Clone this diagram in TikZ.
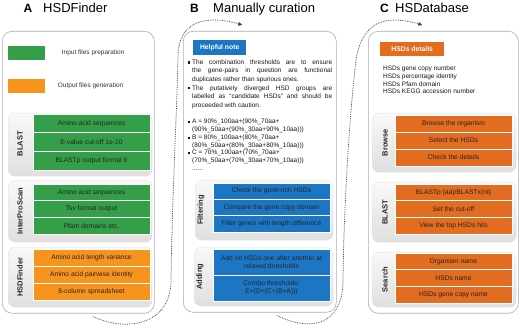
\documentclass[tikz,border=0pt]{standalone}
\usepackage{fontspec}
\setmainfont{Liberation Sans}
\usepackage{xcolor}
\usetikzlibrary{arrows.meta,positioning}
\definecolor{findgreen}{RGB}{52,158,72}
\definecolor{findorange}{RGB}{247,148,30}
\definecolor{dborange}{RGB}{226,108,32}
\definecolor{curblue}{RGB}{28,118,196}
\newcommand{\rowfont}{\fontsize{6.7}{7.6}\selectfont}
\newcommand{\notefont}{\fontsize{6.5}{8.6}\selectfont}
\newcommand{\formfont}{\fontsize{6.5}{7.8}\selectfont}
\newcommand{\sqbul}{\makebox[4.5pt][l]{\rule[0.6pt]{2.2pt}{2.2pt}}}

\begin{document}
\begin{tikzpicture}[x=1pt, y=-1pt,
  outer/.style={draw=gray!65, line width=0.6pt, rounded corners=10pt, fill=white,
    anchor=north west, inner sep=0pt},
  panel/.style={draw=gray!22, rounded corners=7pt, top color=gray!5, bottom color=gray!25,
    anchor=north west, inner sep=0pt},
  row/.style={draw=white, line width=0.5pt, minimum width=117pt, minimum height=17pt,
    inner sep=1pt, outer sep=0pt, font=\rowfont, text=black!85, align=center},
  greenrow/.style={row, fill=findgreen},
  orangerow/.style={row, fill=findorange},
  dbrow/.style={row, fill=dborange},
  bluerow/.style={row, fill=curblue},
  grp/.style={rotate=90, font=\fontsize{7.5}{9}\selectfont\bfseries, text=black!85},
  head/.style={anchor=north west, inner sep=0pt, text=white,
    font=\fontsize{6.8}{8}\selectfont\bfseries},
  legtext/.style={font=\fontsize{6.5}{8}\selectfont, text=black!80},
  ttl/.style={font=\fontsize{12}{14}\selectfont\bfseries, anchor=base, inner sep=0pt},
  ttlname/.style={font=\fontsize{13}{15}\selectfont, anchor=base west, inner sep=0pt},
  flow/.style={densely dotted, line width=0.75pt, black!75,
    -{Triangle[length=4pt,width=3.6pt]}}
]
  \useasboundingbox (0,0) rectangle (520,328);

  % titles
  \node[ttl] (ta) at (28,13) {A};
  \node[ttlname] (tan) at (43,13) {HSDFinder};
  \node[ttl] (tb) at (194.5,13) {B};
  \node[ttlname] (tbn) at (213,13) {Manually curation};
  \node[ttl] (tc) at (384.5,13) {C};
  \node[ttlname] (tcn) at (395,13) {HSDatabase};

  % A: HSDFinder
  \node[outer, minimum width=152pt, minimum height=282pt] (boxA) at (2,31) {};
  \node[anchor=north west, fill=findgreen, minimum width=37pt, minimum height=14pt,
    inner sep=0pt] (leggreen) at (8,46) {};
  \node[legtext, right=13pt of leggreen] {Input files preparation};
  \node[anchor=north west, fill=findorange, minimum width=37pt, minimum height=14pt,
    inner sep=0pt] (legorange) at (8,79) {};
  \node[legtext, right=9pt of legorange] {Output files generation};

  \node[panel, minimum width=144pt, minimum height=63pt] (pblast) at (8,113) {};
  \node[grp] at ([xshift=12pt,yshift=1pt]pblast.west) {BLAST};
  \node[greenrow, minimum height=18.7pt, anchor=north west] (bl1)
    at ([xshift=25pt,yshift=-1pt]pblast.north west) {Amino acid sequences};
  \node[greenrow, minimum height=18.7pt, below=0pt of bl1] (bl2) {E-value cut-off 1e-10};
  \node[greenrow, minimum height=18.7pt, below=0pt of bl2] (bl3) {BLASTp output format 6};

  \node[panel, minimum width=144pt, minimum height=62pt] (pipr) at (8,180) {};
  \node[grp] at ([xshift=12pt]pipr.west) {InterProScan};
  \node[greenrow, minimum height=16.7pt, anchor=north west] (ip1)
    at ([xshift=25pt,yshift=-4pt]pipr.north west) {Amino acid sequences};
  \node[greenrow, minimum height=16.7pt, below=0pt of ip1] (ip2) {Tsv format output};
  \node[greenrow, minimum height=16.7pt, below=0pt of ip2] (ip3) {Pfam domains etc.};

  \node[panel, minimum width=144pt, minimum height=60pt] (pfind) at (8,247) {};
  \node[grp] at ([xshift=12pt]pfind.west) {HSDFinder};
  \node[orangerow, anchor=north west] (hf1)
    at ([xshift=25pt,yshift=-2pt]pfind.north west) {Amino acid length variance};
  \node[orangerow, below=0pt of hf1] (hf2) {Amino acid pairwise identity};
  \node[orangerow, below=0pt of hf2] (hf3) {8-column spreadsheet};

  % B: Manually curation
  \node[outer, minimum width=153pt, minimum height=281pt] (boxB) at (183,31) {};
  \node[head, fill=curblue, minimum width=53pt, minimum height=15pt] (hnote) at (193,40)
    {Helpful note};
  \node[anchor=north west, inner sep=0pt, text width=144.5pt, align=justify,
    font=\notefont, text=black!90] (notes) at (187.5,59.3) {%
    \noindent\hangindent=4.5pt\hangafter=1\sqbul The combination thresholds are to ensure\linebreak
    the gene-pairs in question are functional\linebreak
    duplicates rather than spurious ones.\par
    \noindent\hangindent=4.5pt\hangafter=1\sqbul The putatively diverged HSD groups are\linebreak
    labelled as “candidate HSDs” and should be\linebreak
    proceeded with caution.\par};
  \node[anchor=north west, inner sep=0pt, align=left, font=\formfont, text=black!90]
    (forms) at (187.5,118.8) {%
    \sqbul A = 90\%\_100aa+(90\%\_70aa+\\
    \hspace*{4.5pt}(90\%\_50aa+(90\%\_30aa+90\%\_10aa)))\\
    \sqbul B = 80\%\_100aa+(80\%\_70aa+\\
    \hspace*{4.5pt}(80\%\_50aa+(80\%\_30aa+80\%\_10aa)))\\
    \sqbul C = 70\%\_100aa+(70\%\_70aa+\\
    \hspace*{4.5pt}(70\%\_50aa+(70\%\_30aa+70\%\_10aa)))\\
    \hspace*{4.5pt}......};

  \node[panel, minimum width=138pt, minimum height=60pt] (pfilt) at (195,180) {};
  \node[grp] at ([xshift=6pt]pfilt.west) {Filtering};
  \node[bluerow, minimum height=16.3pt, anchor=north west] (fi1)
    at ([xshift=18pt,yshift=-3pt]pfilt.north west) {Check the gene-rich HSDs};
  \node[bluerow, minimum height=16.3pt, below=0pt of fi1] (fi2) {Compare the gene copy domain};
  \node[bluerow, minimum height=16.3pt, below=0pt of fi2] (fi3) {Filter genes with length difference};

  \node[panel, minimum width=139pt, minimum height=59pt] (padd) at (194,247) {};
  \node[grp] at ([xshift=6pt]padd.west) {Adding};
  \node[bluerow, minimum height=26pt, anchor=north west] (ad1)
    at ([xshift=19pt,yshift=-2pt]padd.north west)
    {Add on HSDs one after another at\\relaxed thresholds};
  \node[bluerow, minimum height=26pt, below=0pt of ad1] (ad2) {Combo thresholds:\\E+(D+(C+(B+A)))};

  % C: HSDatabase
  \node[outer, minimum width=150pt, minimum height=282pt] (boxC) at (368,31) {};
  \node[head, fill=dborange, minimum width=64pt, minimum height=14pt] (hdet) at (380,42)
    {HSDs details};
  \node[anchor=north west, inner sep=0pt, align=left,
    font=\fontsize{6.5}{7.7}\selectfont, text=black!90] (details) at (383,65.7) {%
    HSDs gene copy number\\
    HSDs percentage identity\\
    HSDs Pfam domain\\
    HSDs KEGG accession number};

  \node[panel, minimum width=144pt, minimum height=59pt] (pbrow) at (372,113) {};
  \node[grp] at ([xshift=13pt]pbrow.west) {Browse};
  \node[dbrow, anchor=north west] (br1)
    at ([xshift=23pt,yshift=-2pt]pbrow.north west) {Browse the organism};
  \node[dbrow, below=0pt of br1] (br2) {Select the HSDs};
  \node[dbrow, below=0pt of br2] (br3) {Check the details};

  \node[panel, minimum width=144pt, minimum height=60pt] (pdbbl) at (372,182) {};
  \node[grp] at ([xshift=13pt]pdbbl.west) {BLAST};
  \node[dbrow, minimum height=16.7pt, anchor=north west] (db1)
    at ([xshift=23pt,yshift=-2pt]pdbbl.north west) {BLASTp (aa)/BLASTx(nt)};
  \node[dbrow, minimum height=16.7pt, below=0pt of db1] (db2) {Set the cut-off};
  \node[dbrow, minimum height=16.7pt, below=0pt of db2] (db3) {View the top HSDs hits};

  \node[panel, minimum width=144pt, minimum height=55pt] (psrch) at (372,252) {};
  \node[grp] at ([xshift=13pt]psrch.west) {Search};
  \node[dbrow, minimum height=16.7pt, anchor=north west] (se1)
    at ([xshift=23pt,yshift=-1pt]psrch.north west) {Organism name};
  \node[dbrow, minimum height=16.7pt, below=0pt of se1] (se2) {HSDs name};
  \node[dbrow, minimum height=16.7pt, below=0pt of se2] (se3) {HSDs gene copy name};

  % dotted hand-over arrows
  \draw[flow] ([xshift=15pt,yshift=-3pt]boxA.south) .. controls (125,332) and (171,326) .. (171,280)
    .. controls (172,200) and (177,110) .. (178,55)
    .. controls (179,22) and (205,14) .. ([xshift=-17.5pt,yshift=6pt]boxB.north);
  \draw[flow] ([xshift=17.5pt,yshift=-3pt]boxB.south) .. controls (310,332) and (343,326) .. (343,280)
    .. controls (344,200) and (350,110) .. (356,60)
    .. controls (362,22) and (385,14) .. ([xshift=-21pt,yshift=6pt]boxC.north);
\end{tikzpicture}
\end{document}
